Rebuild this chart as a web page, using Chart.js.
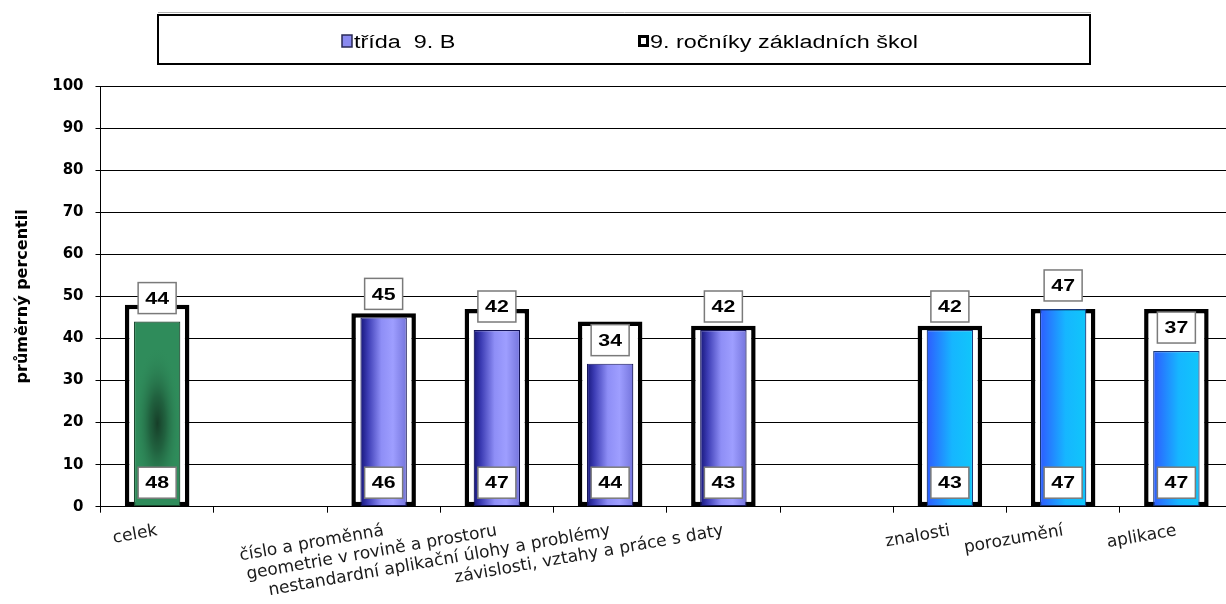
<!DOCTYPE html>
<html><head><meta charset="utf-8">
<script src="https://cdn.jsdelivr.net/npm/chart.js@4.4.1/dist/chart.umd.min.js"></script>
<style>html,body{margin:0;padding:0;background:#fff;overflow:hidden;} #wrap{width:1226px;height:604px;position:relative;overflow:hidden;}</style>
</head><body><div id="wrap"><canvas id="c" width="1233" height="616"></canvas></div>
<script>
const categories = ['celek', '', 'číslo a proměnná', 'geometrie v rovině a prostoru', 'nestandardní aplikační úlohy a problémy', 'závislosti, vztahy a práce s daty', '', 'znalosti', 'porozumění', 'aplikace'];
const categoryGroups = ['celek', null, 'obsah', 'obsah', 'obsah', 'obsah', null, 'kognitivni', 'kognitivni', 'kognitivni'];
const classValues = [44, null, 45, 42, 34, 42, null, 42, 47, 37];
const nationalValues = [48, null, 46, 47, 44, 43, null, 43, 47, 47];
const yTicks = [0, 10, 20, 30, 40, 50, 60, 70, 80, 90, 100];
const seriesNames = ['třída  9. B', '9. ročníky základních škol'];
const axisTitle = 'průměrný percentil';

const INNER_PCT = 0.41, OUTER_PCT = 0.57;

function slotInfo(chart, i) {
  const xs = chart.scales.x, ys = chart.scales.y;
  const slot = xs.width / categories.length;
  return { x: xs.getPixelForValue(i), slot, ys };
}

function innerFill(context) {
  const chart = context.chart;
  const i = context.dataIndex;
  const grp = categoryGroups[i];
  if (!chart.chartArea || classValues[i] == null) return '#8080e8';
  const { x, slot, ys } = slotInfo(chart, i);
  const w = slot * INNER_PCT;
  const ctx = chart.ctx;
  if (grp === 'celek') {
    const top = ys.getPixelForValue(classValues[i]);
    const base = ys.getPixelForValue(0);
    const h = Math.max(2, base - top);
    const pad = 4;
    const off = document.createElement('canvas');
    off.width = Math.ceil(w + 2 * pad); off.height = Math.ceil(h + 2 * pad);
    const o = off.getContext('2d');
    o.fillStyle = '#2f8c5b';
    o.fillRect(0, 0, off.width, off.height);
    o.save();
    o.translate(off.width / 2, pad + h * 0.55);
    o.scale(w * 0.5, h * 0.42);
    const g = o.createRadialGradient(0, 0, 0, 0, 0, 1);
    g.addColorStop(0, 'rgba(22,62,40,1)');
    g.addColorStop(0.35, 'rgba(30,90,58,0.85)');
    g.addColorStop(1, 'rgba(47,140,91,0)');
    o.fillStyle = g;
    o.fillRect(-1.2, -1.2, 2.4, 2.4);
    o.restore();
    const p = ctx.createPattern(off, 'no-repeat');
    p.setTransform(new DOMMatrix().translate(x - w / 2 - pad, top - pad));
    return p;
  }
  const g = ctx.createLinearGradient(x - w / 2, 0, x + w / 2, 0);
  if (grp === 'obsah') {
    g.addColorStop(0, '#16167a');
    g.addColorStop(0.16, '#3c3cb4');
    g.addColorStop(0.45, '#8e8ef6');
    g.addColorStop(0.7, '#9e9eff');
    g.addColorStop(1, '#7474dc');
  } else {
    g.addColorStop(0, '#2e5cff');
    g.addColorStop(0.55, '#16b6ff');
    g.addColorStop(1, '#10c6fa');
  }
  return g;
}

function innerBorder(context) {
  const grp = categoryGroups[context.dataIndex];
  if (grp === 'celek') return '#1c4a30';
  if (grp === 'kognitivni') return '#1a3a7a';
  return '#15155a';
}

function drawBox(ctx, cx, bottom, text) {
  const w = 38, h = 31;
  ctx.save();
  ctx.fillStyle = '#ffffff';
  ctx.fillRect(cx - w / 2, bottom - h, w, h);
  ctx.strokeStyle = '#7a7a7a';
  ctx.lineWidth = 1.5;
  ctx.strokeRect(cx - w / 2, bottom - h, w, h);
  ctx.translate(cx, bottom - h / 2 + 1);
  ctx.scale(1.25, 1);
  ctx.fillStyle = '#000';
  ctx.font = 'bold 17px "Liberation Sans", Arial, sans-serif';
  ctx.textAlign = 'center';
  ctx.textBaseline = 'middle';
  ctx.fillText(text, 0, 0);
  ctx.restore();
}

const valueLabels = {
  id: 'valueLabels',
  afterDatasetsDraw(chart) {
    const ctx = chart.ctx;
    const inner = chart.getDatasetMeta(0), outer = chart.getDatasetMeta(1);
    categories.forEach((c, i) => {
      if (classValues[i] != null) {
        const e = inner.data[i];
        drawBox(ctx, e.x, e.y - 8, String(classValues[i]));
      }
      if (nationalValues[i] != null) {
        const o = outer.data[i];
        drawBox(ctx, o.x, o.base - 8, String(nationalValues[i]));
      }
    });
  }
};

const customLegend = {
  id: 'customLegend',
  afterDraw(chart) {
    const ctx = chart.ctx;
    ctx.save();
    ctx.strokeStyle = '#b0b0b0';
    ctx.lineWidth = 1;
    ctx.beginPath(); ctx.moveTo(158, 12.5); ctx.lineTo(1091, 12.5); ctx.stroke();
    ctx.strokeStyle = '#000';
    ctx.lineWidth = 2;
    ctx.strokeRect(158, 15, 932, 49);
    ctx.font = '18px "Liberation Sans", Arial, sans-serif';
    ctx.textBaseline = 'alphabetic';
    ctx.textAlign = 'left';
    ctx.fillStyle = '#8a8af0';
    ctx.fillRect(342, 35, 10, 12);
    ctx.strokeStyle = '#2a2a55';
    ctx.lineWidth = 1.5;
    ctx.strokeRect(342, 35, 10, 12);
    ctx.save();
    ctx.translate(354, 48); ctx.scale(1.3, 1);
    ctx.fillStyle = '#000';
    ctx.fillText(seriesNames[0], 0, 0);
    ctx.restore();
    ctx.fillStyle = '#000';
    ctx.fillRect(638, 35, 11, 12);
    ctx.fillStyle = '#fff';
    ctx.fillRect(641, 38, 5, 6);
    ctx.save();
    ctx.translate(650, 48); ctx.scale(1.3, 1);
    ctx.fillStyle = '#000';
    ctx.fillText(seriesNames[1], 0, 0);
    ctx.restore();
    ctx.restore();
  }
};

new Chart(document.getElementById('c'), {
  type: 'bar',
  data: {
    labels: categories,
    datasets: [
      {
        label: seriesNames[0],
        data: classValues,
        grouped: false,
        backgroundColor: innerFill,
        borderColor: innerBorder,
        borderWidth: 1.2,
        borderSkipped: false,
        barPercentage: INNER_PCT,
        categoryPercentage: 1
      },
      {
        label: seriesNames[1],
        data: nationalValues,
        grouped: false,
        backgroundColor: '#ffffff',
        borderColor: '#000000',
        borderWidth: 4.5,
        borderSkipped: false,
        barPercentage: OUTER_PCT,
        categoryPercentage: 1
      }
    ]
  },
  options: {
    responsive: false,
    devicePixelRatio: 1,
    animation: false,
    layout: { padding: { top: 86, left: 9, right: 0, bottom: 7 } },
    plugins: { legend: { display: false }, tooltip: { enabled: false } },
    scales: {
      x: {
        grid: { display: true, drawOnChartArea: false, drawTicks: true, tickLength: 6, color: '#000', offset: true },
        border: { display: true, color: '#000', width: 1 },
        ticks: {
          autoSkip: false, minRotation: 10, maxRotation: 10, padding: 8,
          color: '#1a1a1a',
          font: { family: '"DejaVu Sans", sans-serif', size: 17 }
        }
      },
      y: {
        min: 0, max: 100,
        afterBuildTicks: axis => { axis.ticks = yTicks.map(v => ({ value: v })); },
        grid: { color: '#000', lineWidth: 1, tickLength: 5, drawTicks: true },
        border: { display: true, color: '#000', width: 1 },
        ticks: {
          padding: 12, color: '#000',
          font: { family: '"DejaVu Sans", sans-serif', size: 15, weight: 'bold' }
        },
        title: {
          display: true, text: axisTitle, color: '#000',
          font: { family: '"DejaVu Sans", sans-serif', size: 16, weight: 'bold' },
          padding: { top: 4, bottom: 8 }
        }
      }
    }
  },
  plugins: [valueLabels, customLegend]
});
</script>
</body></html>
